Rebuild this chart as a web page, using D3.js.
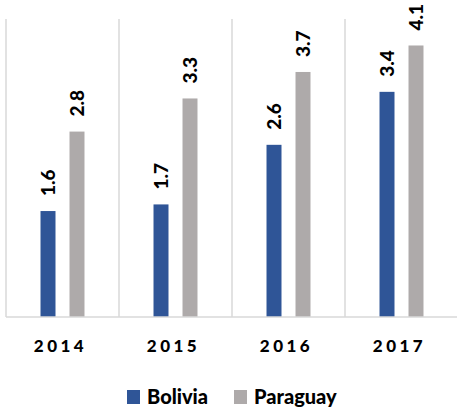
<!DOCTYPE html>
<html>
<head>
<meta charset="utf-8">
<script src="https://cdn.jsdelivr.net/npm/d3@7"></script>
<style>
  body { margin: 0; background: #fff; }
  svg text { font-family: Lato, "Noto Sans", sans-serif; font-weight: bold; fill: #000; }
</style>
</head>
<body>
<svg id="chart" width="457" height="408"></svg>
<script>
// data
const years = ["2014", "2015", "2016", "2017"];
const series = ["Bolivia", "Paraguay"];
const bolivia = [1.6, 1.7, 2.6, 3.4];
const paraguay = [2.8, 3.3, 3.7, 4.1];
const colors = ["#2F5597", "#AEAAAA"];

const svg = d3.select("#chart");
const plotLeft = 6, plotRight = 458, plotTop = 19, plotBottom = 317;

const x = d3.scaleBand().domain(years).range([plotLeft, plotRight]);
const xInner = d3.scaleBand().domain(series).range([0, x.bandwidth()])
    .paddingInner(0.483).paddingOuter(1.19);
const y = d3.scaleLinear().domain([0, 4.5]).range([plotBottom, plotTop]);

// vertical separators
svg.append("g")
    .selectAll("line")
    .data(years)
    .enter().append("line")
    .attr("x1", d => x(d))
    .attr("x2", d => x(d))
    .attr("y1", plotTop)
    .attr("y2", plotBottom)
    .style("stroke", "#d9d9d9")
    .style("stroke-width", 1.5);

const rows = years.map((yr, i) => [
    { year: yr, s: "Bolivia", v: bolivia[i] },
    { year: yr, s: "Paraguay", v: paraguay[i] }
]).flat();

// bars
svg.append("g")
    .selectAll("rect")
    .data(rows)
    .enter().append("rect")
    .attr("x", d => x(d.year) + xInner(d.s))
    .attr("width", xInner.bandwidth())
    .attr("y", d => y(d.v))
    .attr("height", d => plotBottom - y(d.v))
    .style("fill", d => colors[series.indexOf(d.s)]);

// baseline
svg.append("line")
    .attr("x1", plotLeft).attr("x2", plotRight)
    .attr("y1", plotBottom).attr("y2", plotBottom)
    .style("stroke", "#d9d9d9")
    .style("stroke-width", 1.5);

// value labels (rotated)
svg.append("g")
    .selectAll("text")
    .data(rows)
    .enter().append("text")
    .attr("transform", d => {
        const cx = x(d.year) + xInner(d.s) + xInner.bandwidth() / 2;
        return "translate(" + (cx + 7) + "," + (y(d.v) - 15) + ") rotate(-90)";
    })
    .style("font-size", "19px")
    .style("font-weight", 900)
    .text(d => d.v.toFixed(1));

// x axis labels
svg.append("g")
    .selectAll("text")
    .data(years)
    .enter().append("text")
    .attr("x", d => x(d) + x.bandwidth() / 2 - 2)
    .attr("y", 352)
    .attr("text-anchor", "middle")
    .style("font-size", "17px")
    .style("font-weight", 900)
    .style("letter-spacing", "3.5px")
    .text(d => d);

// legend
const legendX = [127, 234];
const legend = svg.append("g")
    .selectAll("g")
    .data(series)
    .enter().append("g")
    .attr("transform", (d, i) => "translate(" + legendX[i] + ",390)");
legend.append("rect")
    .attr("width", 13).attr("height", 14)
    .style("fill", (d, i) => colors[i]);
legend.append("text")
    .attr("x", 20).attr("y", 14)
    .style("font-size", "20px")
    .style("font-weight", 900)
    .text(d => d);
</script>
</body>
</html>
